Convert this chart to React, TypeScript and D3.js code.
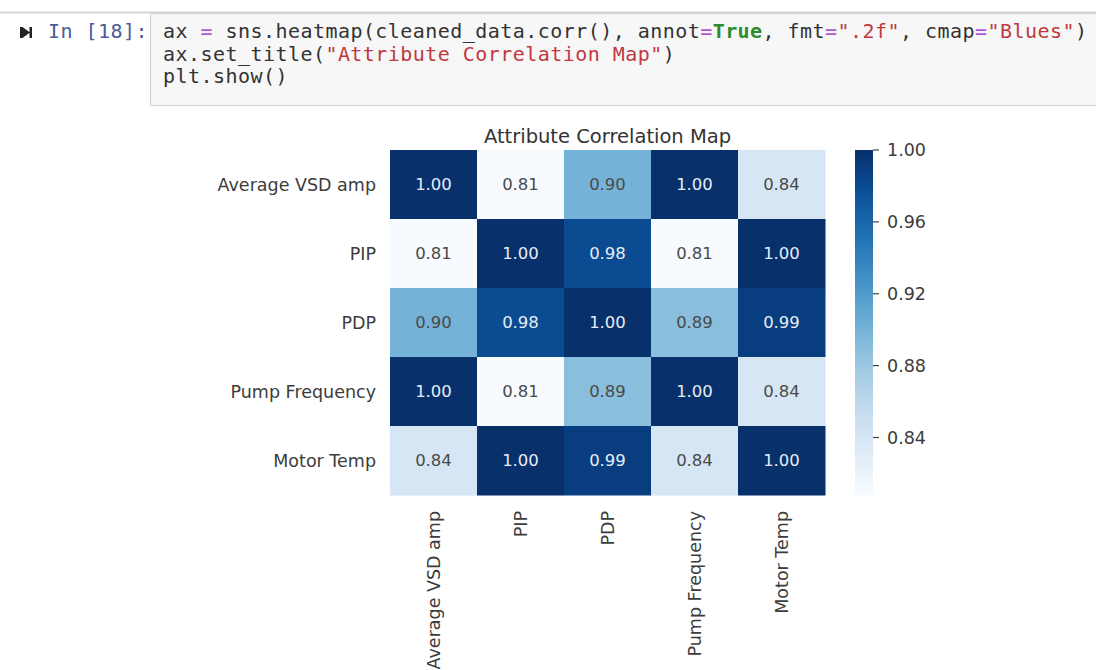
import React from "react";
import * as d3 from "d3";

const attributes = ["Average VSD amp", "PIP", "PDP", "Pump Frequency", "Motor Temp"];
const rowAverageVSD = [1.0, 0.808, 0.9, 1.0, 0.84];
const rowPIP = [0.808, 1.0, 0.98, 0.808, 1.0];
const rowPDP = [0.9, 0.98, 1.0, 0.89, 0.99];
const rowPumpFreq = [1.0, 0.808, 0.89, 1.0, 0.84];
const rowMotorTemp = [0.84, 1.0, 0.99, 0.84, 1.0];
const matrix = [rowAverageVSD, rowPIP, rowPDP, rowPumpFreq, rowMotorTemp];
const colorbarTicks = [0.84, 0.88, 0.92, 0.96, 1.0];
const chartTitle = "Attribute Correlation Map";
const promptText = "In [18]:";

type Tok = [string, string];
const C = "#333333", OP = "#b455d6", STR = "#c0393f", KW = "#2e8b2e";
const codeLines: Tok[][] = [
  [["ax ", C], ["=", OP], [" sns.heatmap(cleaned_data.corr(), annot", C], ["=", OP], ["True", KW], [", fmt", C], ["=", OP], ["\".2f\"", STR], [", cmap", C], ["=", OP], ["\"Blues\"", STR], [")", C]],
  [["ax.set_title(", C], ["\"Attribute Correlation Map\"", STR], [")", C]],
  [["plt.show()", C]],
];

const W = 1096, H = 670;
const hm = { left: 390, right: 825, top: 150, bottom: 495 };
const cb = { left: 855, right: 873 };

export default function App() {
  const x = d3.scaleBand<string>().domain(attributes).range([hm.left, hm.right]);
  const y = d3.scaleBand<string>().domain(attributes).range([hm.top, hm.bottom]);
  const all = matrix.flat();
  const [vmin, vmax] = d3.extent(all) as [number, number];
  const color = d3.scaleSequential(d3.interpolateBlues).domain([vmin, vmax]);
  const cy = d3.scaleLinear().domain([vmin, vmax]).range([hm.bottom, hm.top]);
  const fmt = d3.format(".2f");
  const stops = d3.range(0, 1.0001, 0.05);
  const font = "'DejaVu Sans', sans-serif";
  const mono = "'DejaVu Sans Mono', monospace";
  const lum = (c: string) => {
    const r = d3.rgb(c);
    const f = (v: number) => { v /= 255; return v <= 0.03928 ? v / 12.92 : Math.pow((v + 0.055) / 1.055, 2.4); };
    return 0.2126 * f(r.r) + 0.7152 * f(r.g) + 0.0722 * f(r.b);
  };
  return (
    <svg width={W} height={H} style={{ position: "absolute", left: 0, top: 0, background: "#fff" }}>
      <defs>
        <linearGradient id="cbgrad" x1="0" y1="1" x2="0" y2="0">
          {stops.map((t) => (
            <stop key={t} offset={t} stopColor={color(vmin + t * (vmax - vmin))} />
          ))}
        </linearGradient>
      </defs>
      {/* notebook cell */}
      <line x1={0} x2={W} y1={12.5} y2={12.5} stroke="#d6d6d6" strokeWidth={2} />
      <rect x={150.5} y={13.5} width={W} height={92} fill="#f7f7f7" stroke="#cfcfcf" />
      <path d="M20,27 h2.5 v11 h-2.5z M22.5,27 l7.5,5.5 l-7.5,5.5z M29.5,27 h2.5 v11 h-2.5z" fill="#222" />
      <text x={48} y={38} fontFamily={mono} fontSize={20} letterSpacing={0.45} fill="#4d5b99" style={{ whiteSpace: "pre" }}>{promptText}</text>
      {codeLines.map((line, i) => (
        <text key={i} x={163} y={38 + i * 22.5} fontFamily={mono} fontSize={20} letterSpacing={0.45} style={{ whiteSpace: "pre" }}>
          {line.map(([t, c], j) => (
            <tspan key={j} fill={c} fontWeight={c === KW ? "bold" : "normal"}>{t}</tspan>
          ))}
        </text>
      ))}
      {/* title */}
      <text x={(hm.left + hm.right) / 2} y={143} textAnchor="middle" fontFamily={font} fontSize={19.5} fill="#333">{chartTitle}</text>
      {/* cells */}
      {matrix.map((row, i) =>
        row.map((v, j) => {
          const fill = color(v);
          return (
            <g key={`${i}-${j}`}>
              <rect x={x(attributes[j])} y={y(attributes[i])} width={x.bandwidth() + 0.5} height={y.bandwidth() + 0.5} fill={fill} />
              <text
                x={(x(attributes[j]) as number) + x.bandwidth() / 2}
                y={(y(attributes[i]) as number) + y.bandwidth() / 2}
                textAnchor="middle"
                dominantBaseline="central"
                fontFamily={font}
                fontSize={16.5}
                fill={lum(fill) < 0.408 ? "#e6ecf5" : "#4a4a4a"}
              >
                {fmt(v)}
              </text>
            </g>
          );
        })
      )}
      {/* y labels */}
      {attributes.map((a) => (
        <text key={a} x={376} y={(y(a) as number) + y.bandwidth() / 2} textAnchor="end" dominantBaseline="central" fontFamily={font} fontSize={17.5} fill="#3c3c3c">{a}</text>
      ))}
      {/* x labels */}
      {attributes.map((a) => (
        <text key={a} transform={`translate(${(x(a) as number) + x.bandwidth() / 2},511) rotate(-90)`} textAnchor="end" dominantBaseline="central" fontFamily={font} fontSize={17.5} fill="#3c3c3c">{a}</text>
      ))}
      {/* colorbar */}
      <rect x={cb.left} y={hm.top} width={cb.right - cb.left} height={hm.bottom - hm.top} fill="url(#cbgrad)" />
      {colorbarTicks.map((t) => (
        <g key={t} transform={`translate(0,${cy(t)})`}>
          <line x1={cb.right} x2={cb.right + 6} stroke="#444" strokeWidth={1.2} />
          <text x={cb.right + 14} dominantBaseline="central" fontFamily={font} fontSize={17.5} fill="#3c3c3c">{fmt(t)}</text>
        </g>
      ))}
    </svg>
  );
}
